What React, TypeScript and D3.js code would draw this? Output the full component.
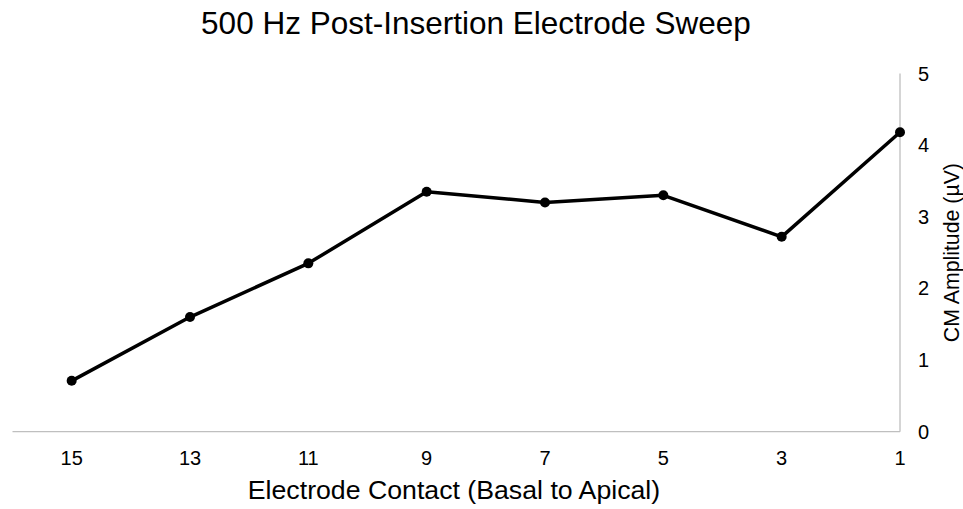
import React from "react";
import * as d3 from "d3";

const contacts = [15, 13, 11, 9, 7, 5, 3, 1];
const amplitudes = [0.71, 1.6, 2.35, 3.35, 3.2, 3.3, 2.72, 4.18];
const yTicks = [0, 1, 2, 3, 4, 5];
const title = "500 Hz Post-Insertion Electrode Sweep";
const xTitle = "Electrode Contact (Basal to Apical)";
const yTitle = "CM Amplitude (µV)";

const W = 963;
const H = 509;
const font = "Arial, 'Liberation Sans', sans-serif";

export default function App() {
  const x = d3.scaleLinear().domain([16, 1]).range([12.5, 900]);
  const y = d3.scaleLinear().domain([0, 5]).range([431.7, 73.5]);
  const pts = contacts.map((c, i) => [x(c), y(amplitudes[i])] as [number, number]);
  const line = d3.line();
  return (
    <svg width={W} height={H} style={{ position: "absolute", left: 0, top: 0, background: "#fff" }} fontFamily={font}>
      <text x={476} y={34} textAnchor="middle" fontSize={31.5} fill="#000">{title}</text>
      <line x1={x(16)} x2={x(1)} y1={y(0)} y2={y(0)} stroke="#bfbfbf" strokeWidth={1.3} />
      <line x1={x(1)} x2={x(1)} y1={y(0)} y2={y(5)} stroke="#bfbfbf" strokeWidth={1.3} />
      {contacts.map((c) => (
        <text key={c} x={x(c)} y={465} textAnchor="middle" fontSize={20} fill="#000">{c}</text>
      ))}
      {yTicks.map((t) => (
        <text key={t} x={918} y={y(t) + 7} textAnchor="start" fontSize={20} fill="#000">{t}</text>
      ))}
      <text x={454} y={499} textAnchor="middle" fontSize={26.7} fill="#000">{xTitle}</text>
      <text transform={`translate(959,${y(2.5)}) rotate(-90)`} textAnchor="middle" fontSize={21.3} fill="#000">{yTitle}</text>
      <path d={line(pts) || ""} fill="none" stroke="#000" strokeWidth={3.5} strokeLinejoin="round" />
      {pts.map((p, i) => (
        <circle key={i} cx={p[0]} cy={p[1]} r={5} fill="#000" />
      ))}
    </svg>
  );
}
